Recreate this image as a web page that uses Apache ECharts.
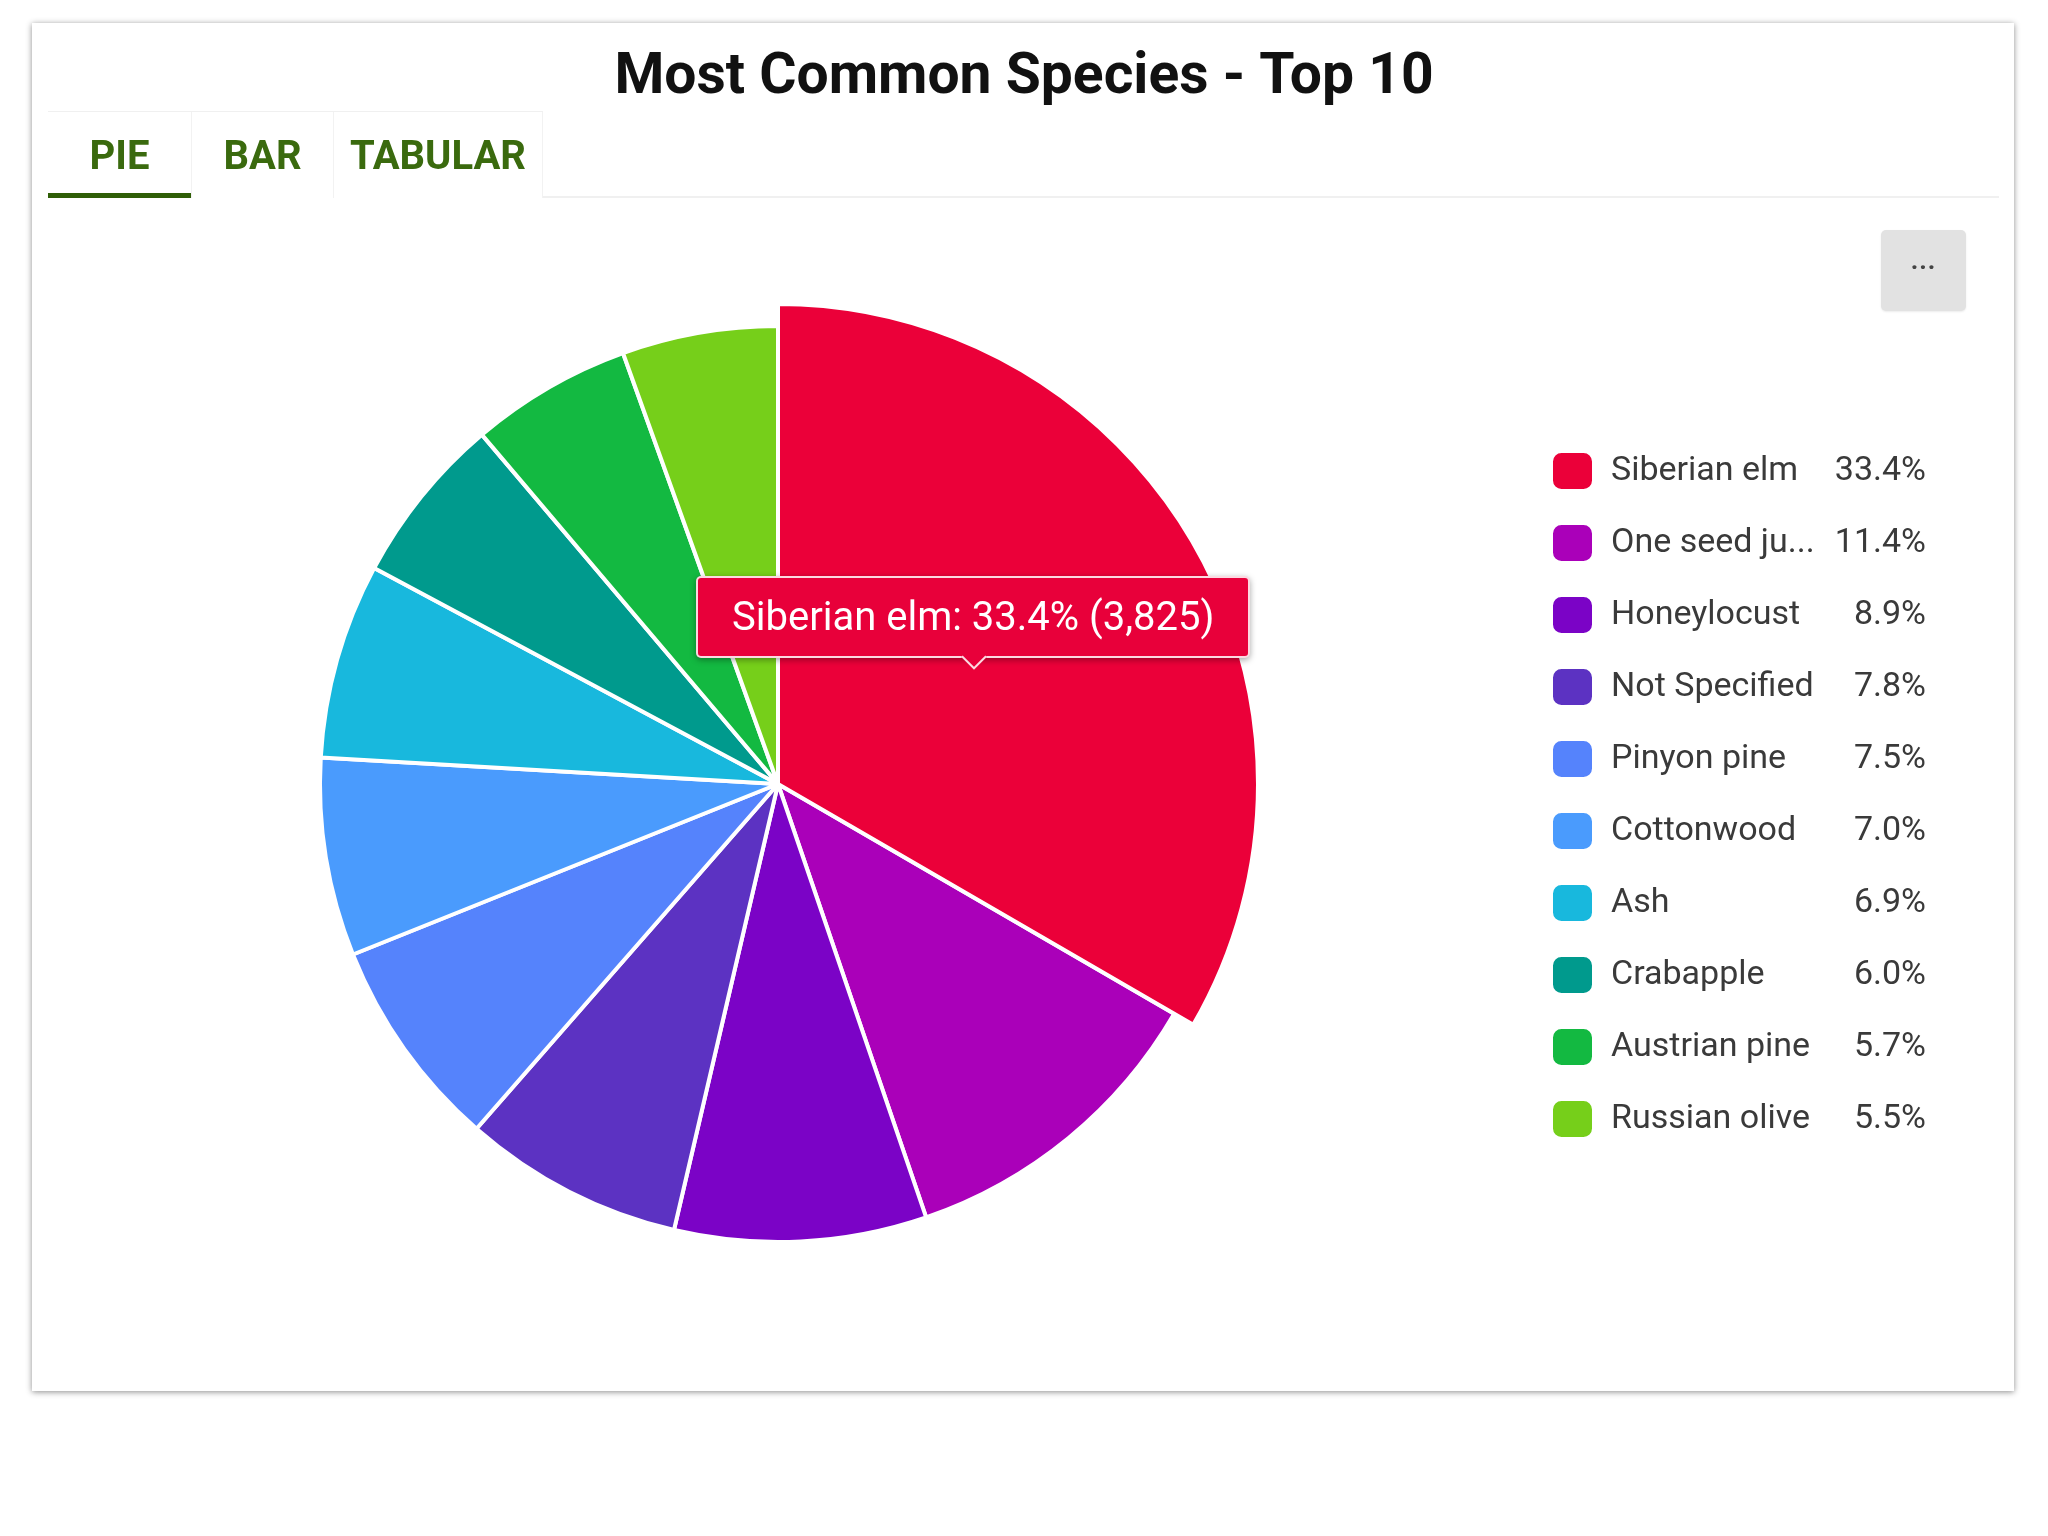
<!DOCTYPE html>
<html>
<head>
<meta charset="utf-8">
<script src="https://cdn.jsdelivr.net/npm/echarts@6/dist/echarts.min.js"></script>
<style>
  html, body { margin: 0; padding: 0; background: #fff; width: 2048px; height: 1536px; overflow: hidden; font-family: Roboto, "Noto Sans", sans-serif; }
  #card { position: absolute; left: 32px; top: 23px; width: 1982px; height: 1368px; background: #fff; box-shadow: 0 1px 6px rgba(0,0,0,0.45); }
  #chart { position: absolute; left: 0; top: 0; width: 2048px; height: 1536px; z-index: 1; }
  .tabs { position: absolute; left: 48px; top: 111px; height: 86px; z-index: 2; display: flex; border-top: 1px solid #f0f0f0; }
  .tab { height: 86px; display: flex; align-items: center; justify-content: center; color: #3a6a0e; font-weight: 700; font-size: 40px; border-right: 1px solid #f2f2f2; box-sizing: border-box; position: relative; }
  .tab.active::after { content: ""; position: absolute; left: 0; right: 0; bottom: 0; height: 5px; background: #2f5e07; }
  .tabline { position: absolute; left: 543px; top: 196px; width: 1456px; height: 2px; background: #f0f0f0; z-index: 2; }
  .more { position: absolute; left: 1881px; top: 230px; width: 85px; height: 81px; background: #e2e2e2; border-radius: 5px; z-index: 2; display: flex; align-items: center; justify-content: center; color: #444; font-size: 26px; font-weight: 700; letter-spacing: 1px; padding-bottom: 22px; box-sizing: border-box; box-shadow: 0 1px 2px rgba(0,0,0,0.08); }
</style>
</head>
<body>
<div id="card"></div>
<div class="tabs">
  <div class="tab active" style="width:144px">PIE</div>
  <div class="tab" style="width:142px">BAR</div>
  <div class="tab" style="width:209px">TABULAR</div>
</div>
<div class="tabline"></div>
<div class="more">...</div>
<div id="chart"></div>
<script>
const categories = ["Siberian elm", "One seed juniper", "Honeylocust", "Not Specified", "Pinyon pine", "Cottonwood", "Ash", "Crabapple", "Austrian pine", "Russian olive"];
const counts = [3825, 1306, 1019, 893, 859, 802, 790, 687, 653, 630];
const colors = ["#eb0039", "#aa00b9", "#7b03c6", "#5c32c2", "#5583fc", "#4a9bfd", "#18b8dd", "#009a8d", "#13b941", "#76cf1a"];

const total = counts.reduce((a, b) => a + b, 0);
const pct = {};
categories.forEach((c, i) => { pct[c] = (counts[i] / total * 100).toFixed(1) + '%'; });

const chart = echarts.init(document.getElementById('chart'), null, { renderer: 'canvas' });
const data = categories.map((c, i) => ({
  name: c,
  value: counts[i],
  itemStyle: { color: colors[i] },
  emphasis: { itemStyle: { color: colors[i] } }
}));

chart.setOption({
  animation: false,
  backgroundColor: 'transparent',
  title: {
    text: 'Most Common Species - Top 10',
    left: 'center',
    top: 45,
    textStyle: { fontFamily: 'Roboto', fontWeight: 'bold', fontSize: 57, color: '#111' }
  },
  tooltip: {
    trigger: 'item',
    triggerOn: 'none',
    alwaysShowContent: true,
    transitionDuration: 0,
    backgroundColor: '#e8003a',
    borderColor: 'rgba(255,255,255,0.85)',
    borderWidth: 2,
    padding: [18, 34],
    extraCssText: 'border-radius:5px; box-shadow: 0 2px 6px rgba(0,0,0,0.35); overflow: visible;',
    textStyle: { color: '#fff', fontFamily: 'Roboto', fontSize: 40 },
    formatter: function (p) {
      const v = p.value.toLocaleString('en-US');
      return '<div style="white-space:nowrap;line-height:42px;">' + p.name + ': ' + p.percent.toFixed(1) + '% (' + v + ')</div>' +
        '<div style="position:absolute;left:50%;bottom:-10px;width:16px;height:16px;margin-left:-8px;background:#e8003a;transform:rotate(45deg);border-right:2px solid rgba(255,255,255,0.85);border-bottom:2px solid rgba(255,255,255,0.85);"></div>';
    },
    position: function (point, params, dom, rect, size) {
      return [point[0] - size.contentSize[0] / 2 - 34, point[1] - size.contentSize[1] - 12];
    }
  },
  legend: {
    orient: 'vertical',
    left: 1546,
    top: 446,
    itemWidth: 41,
    itemHeight: 38,
    itemGap: 32,
    icon: 'roundRect',
    data: categories,
    selectedMode: false,
    formatter: function (name) {
      const shown = name.length > 13 ? name.slice(0, 11) + '...' : name;
      return '{n|' + shown + '}{p|' + pct[name] + '}';
    },
    textStyle: {
      fontFamily: 'Roboto',
      fontSize: 34,
      color: '#3a3a3a',
      rich: {
        n: { fontFamily: 'Roboto', fontSize: 34, color: '#3a3a3a', width: 226, padding: [0, 0, 0, 13] },
        p: { fontFamily: 'Roboto', fontSize: 34, color: '#3a3a3a', width: 89, align: 'right' }
      }
    }
  },
  series: [{
    type: 'pie',
    center: [778, 784],
    radius: [0, 458],
    startAngle: 90,
    clockwise: true,
    label: { show: false },
    labelLine: { show: false },
    itemStyle: { borderColor: '#fff', borderWidth: 4 },
    emphasis: { scale: true, scaleSize: 22, focus: 'none' },
    data: data
  }]
});

chart.dispatchAction({ type: 'highlight', seriesIndex: 0, dataIndex: 0 });
chart.dispatchAction({ type: 'showTip', seriesIndex: 0, dataIndex: 0 });
</script>
</body>
</html>
